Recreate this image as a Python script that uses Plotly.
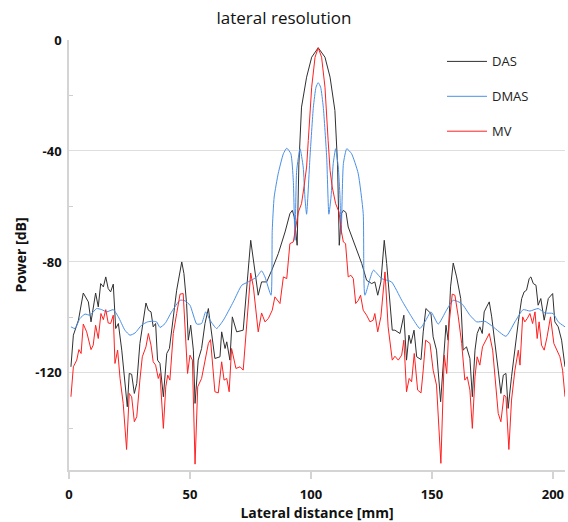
import plotly.graph_objects as go

# ---------------- data ----------------
das_x = [0.8, 1.8, 3.9, 5.9, 8.0, 9.1, 11.0, 12.1, 13.1, 14.2, 15.2, 16.2, 17.2, 18.3, 19.3, 20.4,
         21.8, 23.1, 24.1, 24.9, 25.9, 27.0, 28.0, 29.3, 30.7, 31.8, 32.8, 33.9, 34.8, 35.8, 36.6,
         37.6, 39.0, 40.4, 41.5, 43.1, 44.5, 46.6, 47.5, 48.6, 49.3, 50.3, 51.4, 52.1, 53.4, 54.8,
         56.2, 57.6, 58.3, 60.3, 62.4, 63.1, 64.5, 65.2, 66.5, 67.5, 69.3, 72.0, 75.1, 76.5, 78.2,
         79.6, 81.7, 83.8, 86.5, 89.3, 91.3, 92.3, 93.1, 94.3, 95.0, 96.1, 98.2, 100.3, 103.0,
         105.8, 107.9, 109.9, 111.0, 111.7, 112.6, 113.4, 114.5, 115.4, 118.2, 121.0, 123.0, 125.1,
         126.4, 127.6, 128.9, 130.3, 131.3, 132.6, 133.6, 134.7, 136.8, 138.4, 139.5, 140.5, 141.3,
         142.6, 143.7, 145.5, 146.4, 147.5, 149.6, 150.5, 151.9, 153.6, 154.7, 155.8, 156.7, 157.7,
         158.8, 160.2, 161.9, 162.9, 164.3, 165.7, 166.7, 167.8, 168.7, 169.8, 170.8, 171.6, 172.6,
         173.7, 174.7, 176.0, 177.4, 178.5, 179.5, 180.6, 181.5, 182.9, 184.3, 185.7, 187.1, 188.1,
         189.1, 190.2, 190.9, 191.9, 193.0, 193.9, 195.0, 196.4, 198.1, 199.9, 200.8, 202.2, 203.6,
         205.0]
das_y = [-117.8, -106.4, -101.0, -91.2, -94.4, -101.6, -91.2, -96.2, -87.8, -89.0, -85.4, -89.6,
         -90.8, -88.0, -104.0, -102.2, -111.8, -123.8, -132.2, -120.2, -120.5, -127.4, -123.8,
         -109.4, -101.0, -94.8, -97.4, -98.0, -103.4, -102.2, -115.4, -116.6, -128.6, -113.0,
         -111.2, -99.8, -90.2, -80.0, -84.2, -95.0, -108.2, -102.8, -111.8, -131.0, -115.4, -111.2,
         -102.2, -96.8, -101.0, -114.8, -114.2, -105.2, -111.2, -108.8, -115.4, -99.8, -105.2,
         -104.6, -72.2, -82.0, -92.0, -87.2, -87.2, -83.0, -77.0, -69.2, -62.6, -61.4, -63.8, -74.0,
         -45.0, -24.2, -13.4, -6.2, -2.8, -6.2, -13.4, -25.4, -45.0, -74.0, -62.6, -61.4, -62.2,
         -67.4, -74.0, -80.6, -86.6, -87.8, -87.2, -92.0, -87.2, -72.2, -80.6, -96.2, -104.6,
         -104.6, -105.8, -99.2, -115.4, -106.4, -109.4, -104.6, -114.2, -115.2, -105.2, -96.8,
         -98.6, -107.0, -111.8, -130.4, -115.4, -102.8, -108.2, -89.0, -80.4, -85.4, -93.2, -111.8,
         -110.6, -114.8, -128.6, -111.8, -105.8, -103.4, -105.8, -98.0, -96.2, -94.4, -99.8,
         -108.2, -119.0, -127.4, -120.8, -120.2, -132.8, -121.4, -110.6, -101.6, -93.2, -90.8,
         -90.2, -86.0, -85.4, -87.8, -88.4, -95.6, -93.2, -101.0, -93.2, -91.4, -101.6, -103.4,
         -108.2, -117.8]

dmas_x = [0.8, 2.5, 4.5, 6.6, 8.7, 11.4, 13.5, 15.6, 18.3, 20.4, 23.1, 25.2, 27.3, 30.0, 32.5,
          34.4, 36.2, 37.6, 39.7, 42.4, 45.9, 47.9, 50.0, 52.8, 54.8, 56.5, 58.3, 61.0, 63.8, 67.9,
          71.4, 74.1, 77.6, 79.6, 81.0, 83.5, 84.0, 84.8, 86.5, 88.6, 90.0, 91.7, 92.7, 93.4, 94.1,
          95.5, 96.8, 97.5, 98.2, 99.6, 101.0, 102.1, 103.0, 104.0, 105.1, 106.5, 107.4, 108.3,
          109.2, 110.2, 111.3, 112.0, 112.5, 113.4, 114.8, 116.8, 119.5, 121.6, 122.3, 125.8,
          129.2, 133.3, 137.5, 141.6, 145.0, 147.1, 149.6, 152.6, 156.0, 158.8, 162.3, 165.7,
          168.5, 171.9, 175.3, 180.6, 184.3, 187.7, 190.5, 193.9, 196.7, 200.1, 202.2, 205.0]
dmas_y = [-103.4, -104.0, -100.4, -98.8, -99.2, -96.8, -97.2, -98.0, -97.2, -99.8, -104.6, -106.4,
          -105.6, -102.8, -101.6, -101.4, -101.6, -103.6, -102.2, -98.0, -93.8, -94.0, -95.6,
          -102.4, -102.2, -98.0, -101.0, -104.0, -101.0, -94.4, -88.4, -87.2, -85.4, -83.2, -85.4,
          -92.0, -68.6, -56.6, -48.0, -41.0, -39.0, -41.0, -50.6, -72.2, -47.0, -39.2, -45.8,
          -56.6, -62.8, -42.2, -24.2, -17.0, -15.4, -17.0, -24.2, -42.2, -62.8, -56.6, -44.6,
          -39.2, -45.8, -56.6, -70.0, -44.6, -39.2, -41.0, -48.0, -62.5, -92.0, -83.0, -86.0,
          -87.2, -93.8, -99.8, -104.0, -101.6, -98.0, -102.4, -97.4, -93.8, -95.0, -99.2, -101.6,
          -101.4, -103.4, -106.8, -101.6, -97.2, -97.7, -96.8, -98.4, -98.6, -101.6, -103.4]

mv_x = [0.8, 1.8, 3.2, 4.1, 5.0, 5.9, 7.3, 8.0, 9.1, 10.0, 11.0, 12.1, 13.2, 14.2, 15.2, 16.2,
        17.2, 18.3, 19.0, 20.1, 21.1, 22.4, 23.8, 24.9, 25.9, 27.0, 28.0, 29.3, 30.3, 31.8, 32.8,
        33.9, 34.8, 35.8, 36.9, 37.6, 39.0, 40.0, 40.8, 41.7, 43.1, 44.5, 45.9, 47.2, 47.9, 49.0,
        50.0, 51.0, 52.1, 53.2, 54.8, 56.2, 57.6, 58.5, 60.3, 61.7, 63.1, 64.1, 65.2, 66.2, 67.2,
        69.0, 70.7, 72.0, 75.1, 76.2, 78.2, 79.6, 81.0, 82.4, 84.0, 85.1, 87.2, 88.6, 90.0, 91.3,
        92.7, 94.8, 96.1, 97.2, 98.2, 98.9, 99.6, 100.3, 101.7, 103.0, 104.4, 105.8, 107.1, 107.9,
        108.8, 110.2, 111.6, 112.5, 113.4, 114.3, 115.4, 116.5, 117.5, 118.5, 119.6, 120.5, 121.6,
        123.0, 124.4, 125.7, 126.4, 127.6, 128.9, 130.6, 131.9, 133.6, 134.7, 136.1, 137.5, 138.4,
        139.5, 140.6, 141.6, 142.7, 144.1, 145.5, 146.4, 147.4, 149.2, 150.5, 151.9, 153.7, 155.1,
        156.1, 157.1, 158.4, 159.5, 160.9, 162.3, 163.6, 164.6, 165.7, 166.7, 167.8, 168.7, 169.8,
        170.9, 171.9, 173.7, 175.1, 176.0, 177.4, 178.5, 179.8, 180.6, 181.8, 182.9, 184.3, 185.7,
        186.4, 187.5, 188.4, 189.4, 190.5, 191.6, 192.6, 193.5, 194.3, 195.3, 196.4, 197.6, 199.0,
        200.4, 201.8, 202.9, 204.0, 205.0]
mv_y = [-128.6, -117.8, -115.4, -111.6, -113.0, -102.4, -105.2, -107.6, -111.6, -110.0, -102.8,
        -107.6, -98.6, -100.8, -97.2, -102.0, -102.2, -99.2, -116.6, -111.8, -122.0, -131.0,
        -147.6, -127.4, -128.6, -137.6, -135.8, -122.6, -114.2, -110.6, -105.8, -110.0, -116.0,
        -117.2, -122.0, -120.2, -140.0, -125.0, -120.8, -122.6, -105.8, -98.6, -91.6, -91.4,
        -101.0, -120.2, -113.6, -115.4, -152.9, -125.0, -122.0, -116.0, -109.4, -108.0, -126.8,
        -127.2, -116.0, -122.6, -122.0, -126.8, -111.2, -118.4, -117.8, -119.0, -84.0, -89.0,
        -105.2, -98.4, -101.6, -100.4, -97.4, -92.6, -95.0, -85.4, -86.0, -73.4, -72.8, -62.0,
        -59.0, -52.5, -45.8, -36.2, -28.0, -17.0, -6.2, -2.8, -6.2, -17.0, -36.2, -47.0, -53.0,
        -59.0, -62.0, -68.6, -72.8, -73.4, -85.4, -84.8, -86.0, -95.0, -93.8, -92.0, -97.4, -99.2,
        -101.6, -101.0, -98.6, -105.2, -99.8, -83.6, -103.4, -115.4, -114.0, -115.4, -113.6,
        -108.2, -126.8, -122.0, -123.2, -113.0, -126.2, -127.2, -119.0, -108.2, -109.4, -119.0,
        -124.4, -152.6, -113.6, -120.2, -102.2, -91.6, -92.0, -99.8, -109.4, -122.6, -121.4,
        -126.2, -140.0, -121.4, -114.2, -117.2, -110.6, -108.8, -105.8, -111.8, -121.4, -134.6,
        -137.6, -128.0, -128.6, -147.6, -129.8, -119.0, -111.8, -117.2, -99.8, -101.6, -100.4,
        -98.6, -102.2, -98.0, -107.6, -101.6, -110.0, -111.8, -107.0, -99.8, -109.4, -111.8,
        -114.2, -119.0, -128.6]

series_names = ["DAS", "DMAS", "MV"]
y_tick_vals = [0, -40, -80, -120]
x_tick_vals = [0, 50, 100, 150, 200]

FONT = "Open Sans, Noto Sans, sans-serif"

fig = go.Figure()
fig.add_trace(go.Scatter(x=das_x, y=das_y, mode="lines", name=series_names[0],
                         line=dict(color="#303030", width=1), legendgroup="a"))
fig.add_trace(go.Scatter(x=dmas_x, y=dmas_y, mode="lines", name=series_names[1],
                         line=dict(color="#4a8fe7", width=1, shape="spline", smoothing=0.5),
                         legendgroup="b"))
fig.add_trace(go.Scatter(x=mv_x, y=mv_y, mode="lines", name=series_names[2],
                         line=dict(color="#ff2020", width=1), legendgroup="c"))

fig.update_layout(
    width=568, height=522,
    margin=dict(l=69, r=3, t=40, b=52),
    paper_bgcolor="white", plot_bgcolor="white",
    font=dict(family=FONT, color="#222222"),
    title=dict(text="lateral resolution", x=0.5, xref="container", xanchor="center",
               y=1 - 18 / 522, yref="container", yanchor="middle",
               font=dict(size=17, color="#111111")),
    legend=dict(x=0.752, xanchor="left", y=0.985, yanchor="top",
                bgcolor="rgba(0,0,0,0)", font=dict(size=13, color="#222222"),
                tracegroupgap=15, itemwidth=40, traceorder="grouped"),
    showlegend=True,
)
fig.update_xaxes(
    range=[0, 205], tickvals=x_tick_vals, ticktext=[str(v) for v in x_tick_vals],
    showgrid=False, zeroline=False, automargin=False,
    showline=True, linecolor="#d4d4d4", linewidth=1.5,
    ticks="outside", ticklen=7, tickcolor="#d4d4d4", tickwidth=1.5,
    ticklabelstandoff=5,
    tickfont=dict(size=13, color="#111111", weight="bold"),
    title=dict(text="Lateral distance [mm]", standoff=4,
               font=dict(size=14, color="#111111", weight="bold")),
)
fig.update_yaxes(
    range=[-155, 0], tickvals=y_tick_vals, ticktext=[str(v) for v in y_tick_vals],
    showgrid=True, gridcolor="#dedede", gridwidth=1.2, zeroline=False, automargin=False,
    showline=True, linecolor="#d4d4d4", linewidth=1.5,
    ticks="", ticklabelstandoff=3,
    tickfont=dict(size=13, color="#111111", weight="bold"),
    minor=dict(tickvals=[-20, -60, -100, -140], ticks="inside", ticklen=4,
               tickcolor="#cfcfcf", showgrid=False),
    title=dict(text="Power [dB]", standoff=5,
               font=dict(size=14, color="#111111", weight="bold")),
)

fig.write_html(
    "out.html",
    config={"displayModeBar": False},
    post_script="document.body.style.margin='0';document.body.style.overflow='hidden';",
)
